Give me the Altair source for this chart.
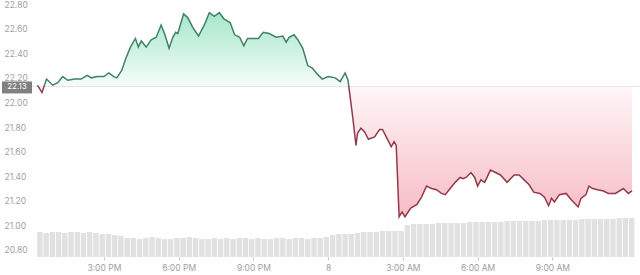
import altair as alt
import pandas as pd

# ---- data ----
times = [
    "07 12:20", "07 12:31", "07 12:42", "07 12:57", "07 13:09", "07 13:21", "07 13:33", "07 13:50",
    "07 14:05", "07 14:20", "07 14:30", "07 14:44", "07 15:00", "07 15:12", "07 15:24", "07 15:31",
    "07 15:43", "07 15:53", "07 16:04", "07 16:16", "07 16:23", "07 16:30", "07 16:42", "07 16:54",
    "07 17:06", "07 17:18", "07 17:27", "07 17:37", "07 17:46", "07 17:53", "07 17:58", "07 18:12",
    "07 18:22", "07 18:34", "07 18:48", "07 19:02", "07 19:14", "07 19:26", "07 19:38", "07 19:49",
    "07 20:04", "07 20:15", "07 20:27", "07 20:37", "07 20:46", "07 21:00", "07 21:12", "07 21:24",
    "07 21:38", "07 21:55", "07 22:11", "07 22:19", "07 22:26", "07 22:38", "07 22:47", "07 22:59",
    "07 23:11", "07 23:22", "07 23:34", "07 23:46", "08 00:00", "08 00:17", "08 00:29", "08 00:41",
    "08 00:48", "08 01:00", "08 01:07", "08 01:11", "08 01:19", "08 01:28", "08 01:37", "08 01:52",
    "08 02:04", "08 02:11", "08 02:20", "08 02:32", "08 02:39", "08 02:44", "08 02:51", "08 02:58",
    "08 03:05", "08 03:19", "08 03:34", "08 03:45", "08 03:57", "08 04:09", "08 04:21", "08 04:33",
    "08 04:42", "08 04:54", "08 05:06", "08 05:18", "08 05:25", "08 05:32", "08 05:44", "08 05:53",
    "08 06:00", "08 06:08", "08 06:17", "08 06:31", "08 06:43", "08 06:55", "08 07:11", "08 07:28",
    "08 07:40", "08 07:52", "08 08:04", "08 08:15", "08 08:30", "08 08:41", "08 08:51", "08 08:58",
    "08 09:05", "08 09:17", "08 09:33", "08 09:45", "08 10:02", "08 10:09", "08 10:21", "08 10:28",
    "08 10:37", "08 10:49", "08 11:03", "08 11:15", "08 11:32", "08 11:51", "08 12:03", "08 12:12",
]
prices = [
    22.14, 22.08, 22.19, 22.14, 22.16, 22.21, 22.18, 22.19,
    22.19, 22.22, 22.20, 22.21, 22.21, 22.24, 22.21, 22.20,
    22.26, 22.36, 22.45, 22.52, 22.45, 22.50, 22.45, 22.51,
    22.53, 22.63, 22.55, 22.44, 22.53, 22.57, 22.56, 22.72,
    22.69, 22.61, 22.54, 22.63, 22.73, 22.70, 22.73, 22.68,
    22.65, 22.55, 22.53, 22.46, 22.52, 22.52, 22.52, 22.57,
    22.56, 22.53, 22.54, 22.49, 22.53, 22.55, 22.51, 22.44,
    22.30, 22.28, 22.23, 22.19, 22.21, 22.20, 22.17, 22.24,
    22.18, 21.86, 21.65, 21.75, 21.79, 21.76, 21.70, 21.72,
    21.78, 21.78, 21.72, 21.64, 21.68, 21.65, 21.07, 21.11,
    21.07, 21.14, 21.17, 21.23, 21.32, 21.30, 21.29, 21.26,
    21.25, 21.30, 21.35, 21.39, 21.38, 21.39, 21.43, 21.39,
    21.32, 21.37, 21.35, 21.45, 21.43, 21.41, 21.35, 21.41,
    21.41, 21.37, 21.33, 21.27, 21.26, 21.23, 21.16, 21.22,
    21.19, 21.25, 21.26, 21.21, 21.15, 21.22, 21.25, 21.32,
    21.30, 21.29, 21.28, 21.26, 21.26, 21.30, 21.26, 21.28,
]
volume = [
    25, 24, 25, 25, 24, 25, 25, 24, 25,
    24, 23, 23, 22, 21,
    19, 19, 18, 19, 20, 19, 18, 18, 19, 19, 20, 19, 18, 18, 19, 18, 19,
    18, 19, 19, 18, 19, 18, 18, 19, 19, 18, 19, 19, 18, 19, 19, 20,
    22, 23, 23, 23,
    24, 25, 25, 25, 26, 26, 26, 26,
    32, 33, 33, 33, 33, 34, 34, 34, 34, 34, 35, 35, 35, 35, 35, 35,
    36, 36, 36, 36, 36, 36, 37, 37, 37, 37, 37, 37, 38, 38, 38, 38, 38, 38,
    39, 39, 39,
]
base_price = 22.13
y_ticks = [20.8, 21.0, 21.2, 21.4, 21.6, 21.8, 22.0, 22.2, 22.4, 22.6, 22.8]
x_tick_times = ["07 15:00", "07 18:00", "07 21:00", "08 00:00", "08 03:00", "08 06:00", "08 09:00"]

# ---- tables ----
def ts(s):
    return pd.Timestamp("2024-03-" + s)

price_df = pd.DataFrame({"t": [ts(s) for s in times], "price": prices})
vol_df = pd.DataFrame({
    "t": pd.date_range("2024-03-07 12:26", periods=len(volume), freq="15min"),
    "vol": volume,
})
base_df = pd.DataFrame({"base": [base_price], "label": [f"{base_price:.2f}"]})


def dt(s):
    t = ts(s)
    return alt.DateTime(year=t.year, month=t.month, date=t.day, hours=t.hour, minutes=t.minute)


x_domain = [dt("07 12:19"), dt("08 12:19")]
x_enc = alt.X(
    "t:T",
    title=None,
    scale=alt.Scale(domain=x_domain),
    axis=alt.Axis(
        values=[dt(s) for s in x_tick_times],
        labelExpr="hours(datum.value) == 0 ? date(datum.value) : timeFormat(datum.value, '%-I:%M %p')",
        grid=False, domain=False, tickSize=3, tickColor="#c8c8c8",
        labelPadding=3, labelColor="#9e9e9e", labelFontSize=8.5, labelFont="Inter",
    ),
)

y_scale = alt.Scale(domain=[20.743, 22.833], nice=False, zero=False)
y_axis = alt.Axis(
    values=y_ticks, format=".2f", grid=False, domain=False, ticks=False, tickSize=0,
    labelAlign="left", labelPadding=28, labelBaseline="middle",
    labelColor="#a0a0a0", labelFontSize=8.5, labelFont="Inter",
)

pmax, pmin = max(prices), min(prices)
off = (pmax - base_price) / (pmax - pmin)

fill_grad = alt.Gradient(
    gradient="linear", x1=0, x2=0, y1=0, y2=1,
    stops=[
        alt.GradientStop(offset=0, color="#a6e7ca"),
        alt.GradientStop(offset=off, color="#f6fcf9"),
        alt.GradientStop(offset=off, color="#fef6f7"),
        alt.GradientStop(offset=1, color="#f6bcc5"),
    ],
)
line_grad = alt.Gradient(
    gradient="linear", x1=0, x2=0, y1=0, y2=1,
    stops=[
        alt.GradientStop(offset=0, color="#3f8266"),
        alt.GradientStop(offset=off, color="#3f8266"),
        alt.GradientStop(offset=off, color="#94394a"),
        alt.GradientStop(offset=1, color="#94394a"),
    ],
)

vol_layer = alt.Chart(vol_df).mark_bar(size=5.4, color="#e1e1e1").encode(
    x=x_enc,
    y=alt.Y("vol:Q", axis=None, scale=alt.Scale(domain=[0, 257], nice=False)),
)

area = alt.Chart(price_df).mark_area(interpolate="linear", color=fill_grad).encode(
    x=x_enc,
    y=alt.Y("price:Q", scale=y_scale, axis=y_axis, title=None),
    y2=alt.datum(base_price),
)

rule = alt.Chart(base_df).mark_rule(color="#e6e6e6", strokeWidth=1).encode(
    y=alt.Y("base:Q", scale=y_scale, axis=y_axis, title=None),
)

line = alt.Chart(price_df).mark_line(interpolate="linear", strokeWidth=1.5, color=line_grad).encode(
    x=x_enc,
    y=alt.Y("price:Q", scale=y_scale, axis=y_axis, title=None),
)

box = alt.Chart(base_df).mark_rect(color="#808080", yOffset=-5, y2Offset=7).encode(
    x=alt.value(-30), x2=alt.value(0),
    y=alt.Y("base:Q", scale=y_scale, axis=y_axis, title=None),
    y2="base:Q",
)

box_text = alt.Chart(base_df).mark_text(
    color="white", fontSize=8, font="Inter", align="center", baseline="middle", dy=1
).encode(
    x=alt.value(-15),
    y=alt.Y("base:Q", scale=y_scale, axis=y_axis, title=None),
    text="label:N",
)

price_layers = alt.layer(area, rule, line, box, box_text)

chart = alt.layer(vol_layer, price_layers).resolve_scale(y="independent").properties(
    width=608, height=257,
    padding={"left": 32, "top": 0, "right": 0, "bottom": 18},
    autosize="none",
    background="white",
).configure_view(strokeWidth=0)

chart.save("out.html", embed_options={"renderer": "svg", "actions": False})
